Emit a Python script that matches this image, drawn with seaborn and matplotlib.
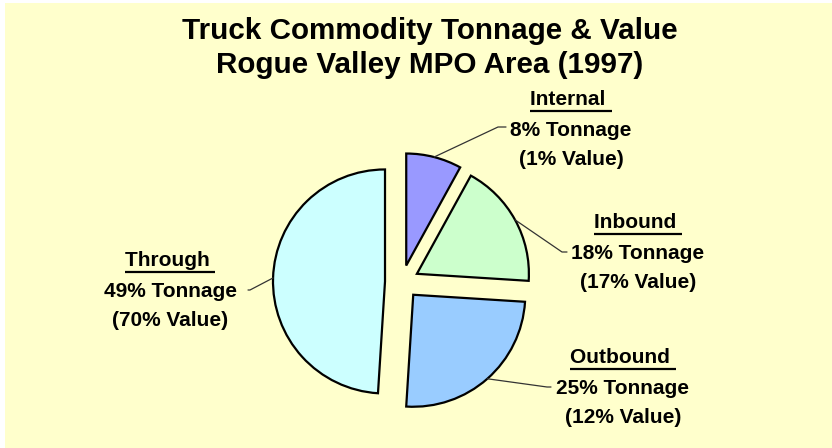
import numpy as np
import matplotlib
matplotlib.use("Agg")
import matplotlib.pyplot as plt
import seaborn as sns
from matplotlib.patches import Rectangle

# ---- data ----
categories = ["Internal", "Inbound", "Outbound", "Through"]
tonnage_pct = [8, 18, 25, 49]
value_pct = [1, 17, 12, 70]
slice_colors = ["#9999FF", "#CCFFCC", "#99CCFF", "#CCFFFF"]
title_lines = ["Truck Commodity Tonnage & Value", "Rogue Valley MPO Area (1997)"]

# ---- layout (pixel coords, y measured from top) ----
W, H = 832, 448
pie_center = (402, 282)
pie_radius = 112
explode_px = 17
# label block: centre x, baseline of heading line
label_pos = {"Internal": (571, 105), "Inbound": (638, 228),
             "Outbound": (623, 363), "Through": (170, 266)}
# leader line: elbow point and end point
leader_pts = {"Internal": [(498, 127), (506, 127)],
              "Inbound": [(562, 252), (567, 252)],
              "Outbound": [(547, 387), (551, 387)],
              "Through": [(250, 290), (248, 290)]}

sns.set_style("white")
plt.rcParams['font.family'] = ['Liberation Sans', 'DejaVu Sans']

fig = plt.figure(figsize=(W / 100, H / 100), dpi=100)
fig.patch.set_facecolor("white")
ax = fig.add_axes([0, 0, 1, 1])
ax.set_facecolor("white")

def Y(y):
    return H - y

ax.add_patch(Rectangle((5, 0), W - 5, H - 3, facecolor="#FFFFCC", edgecolor="none", zorder=0))

wedges, _ = ax.pie(tonnage_pct, colors=slice_colors, startangle=90, counterclock=False,
                   center=(pie_center[0], Y(pie_center[1])), radius=pie_radius,
                   explode=[explode_px] * len(tonnage_pct),
                   wedgeprops=dict(edgecolor="black", linewidth=1.6))
ax.set_xlim(0, W)
ax.set_ylim(0, H)
ax.set_aspect("equal")
ax.axis("off")

# title
fig.text(429.5 / W, Y(39) / H, title_lines[0], ha="center", va="baseline",
         fontsize=21.3, fontweight="bold", color="black")
fig.text(429.5 / W, Y(73) / H, title_lines[1], ha="center", va="baseline",
         fontsize=21.3, fontweight="bold", color="black")

fig.canvas.draw()
renderer = fig.canvas.get_renderer()

for w, cat, t, v in zip(wedges, categories, tonnage_pct, value_pct):
    cx, by = label_pos[cat]
    head = ax.text(cx, Y(by), cat + " ", ha="center", va="baseline",
                   fontsize=15, fontweight="bold", color="black")
    ax.text(cx, Y(by + 31), f"{t}% Tonnage", ha="center", va="baseline",
            fontsize=15, fontweight="bold", color="black")
    ax.text(cx, Y(by + 60), f"({v}% Value)", ha="center", va="baseline",
            fontsize=15, fontweight="bold", color="black")
    bb = head.get_window_extent(renderer)
    inv = ax.transData.inverted()
    (x0, _), (x1, _) = inv.transform([(bb.x0, 0), (bb.x1, 0)])
    ax.plot([x0, x1], [Y(by + 6), Y(by + 6)], color="black", lw=1.6, solid_capstyle="butt")
    # leader line from arc mid-point
    ang = np.deg2rad((w.theta1 + w.theta2) / 2)
    wc = w.center
    sx = wc[0] + pie_radius * np.cos(ang)
    sy = wc[1] + pie_radius * np.sin(ang)
    pts = [(sx, sy)] + [(px, Y(py)) for px, py in leader_pts[cat]]
    ax.plot([p[0] for p in pts], [p[1] for p in pts], color="#333333", lw=0.9)

fig.savefig("out.png", dpi=100, facecolor=fig.get_facecolor())
